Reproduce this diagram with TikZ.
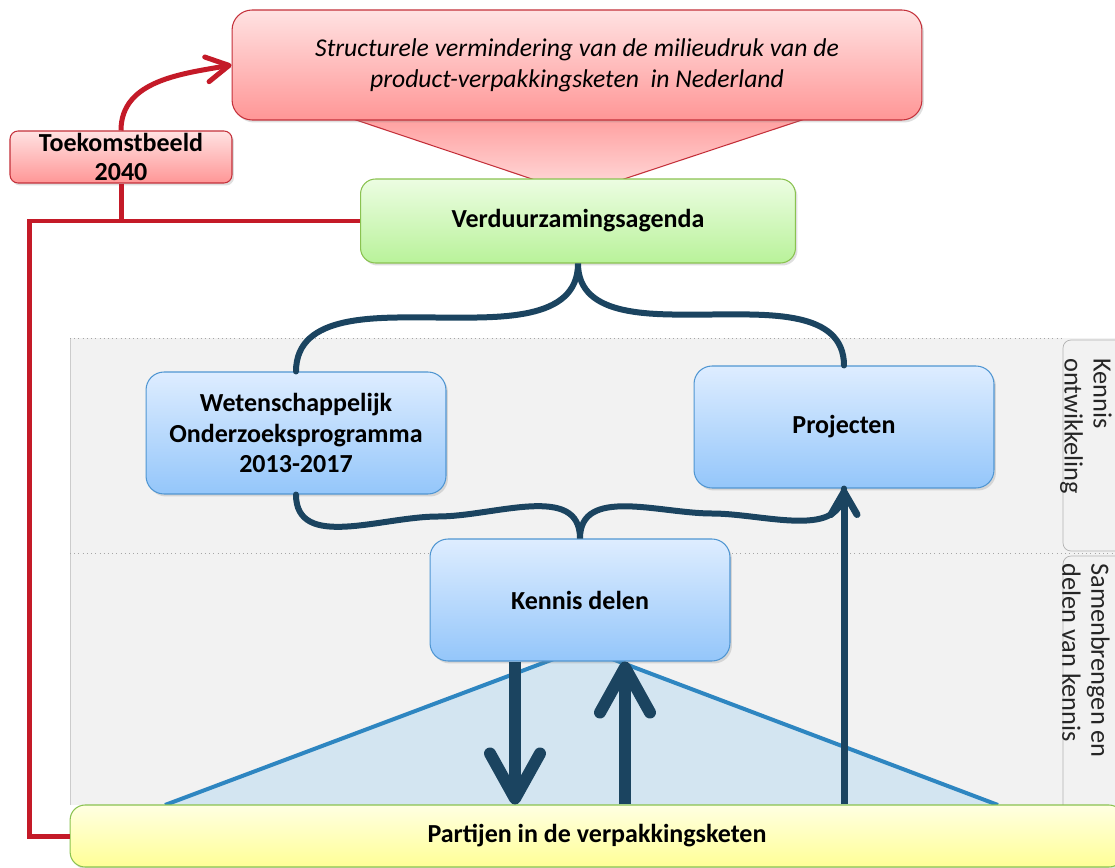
\documentclass[tikz,border=0pt]{standalone}
\usepackage{fontspec}
\setmainfont{Carlito}
\usepackage{xcolor}
\usetikzlibrary{arrows.meta}
\usetikzlibrary{calc}
\usetikzlibrary{shadows}
\definecolor{arrowblue}{RGB}{27,68,96}
\definecolor{feedbackred}{RGB}{196,26,40}
\definecolor{bluetop}{RGB}{222,237,255}
\definecolor{bluebot}{RGB}{148,198,250}
\definecolor{blueedge}{RGB}{80,150,210}
\definecolor{greentop}{RGB}{236,253,226}
\definecolor{greenbot}{RGB}{185,242,154}
\definecolor{greenedge}{RGB}{138,194,80}
\definecolor{redtop}{RGB}{255,226,226}
\definecolor{redbot}{RGB}{255,150,150}
\definecolor{rededge}{RGB}{196,48,58}
\definecolor{yellowtop}{RGB}{255,255,226}
\definecolor{yellowbot}{RGB}{255,255,150}
\definecolor{bandgray}{RGB}{242,242,242}
\definecolor{trifill}{RGB}{211,229,241}
\definecolor{triedge}{RGB}{46,134,193}

\begin{document}
\begin{tikzpicture}[x=0.02cm, y=-0.02cm,
    box/.style={rounded corners=0.36cm, align=center, inner sep=2pt,
        font=\fontsize{14.8}{17.6}\selectfont\bfseries,
        drop shadow={opacity=0.25, shadow xshift=0.04cm, shadow yshift=-0.05cm}},
    bluebox/.style={box, draw=blueedge, line width=0.6pt, top color=bluetop, bottom color=bluebot,
        minimum width=6cm, minimum height=2.44cm},
    redbox/.style={box, draw=rededge, line width=0.6pt, top color=redtop, bottom color=redbot},
    bracelink/.style={draw=arrowblue, line width=0.12cm, line cap=round},
    feedback/.style={draw=feedbackred, line width=0.1cm},
    bigarrow/.style={draw=arrowblue, line width=0.24cm,
        -{Straight Barb[round, length=0.9cm, width=1.0cm]}},
    thinarrow/.style={draw=arrowblue, line width=0.14cm,
        -{Straight Barb[round, length=0.45cm, width=0.52cm]}},
    tablabel/.style={rotate=-90, anchor=west, align=left, inner sep=0pt,
        font=\fontsize{15}{16.5}\selectfont, text=black!85}]
    \useasboundingbox (0,0) rectangle (1115,868);
    \clip (0,0) rectangle (1115,868);
    \fill [white] (0,0) rectangle (1115,868);

    \fill [bandgray] (70,338) rectangle (1125,805);
    \draw [gray!40] (70,338) -- (70,805);
    \draw [gray!70, dotted] (70,338) -- (1063,338);
    \draw [gray!70, dotted] (70,553) -- (1125,553);
    \draw [gray!60, rounded corners=0.16cm] (1125,340) -- (1063,340) -- (1063,551) -- (1125,551);
    \draw [gray!60, rounded corners=0.16cm] (1125,556) -- (1063,556) -- (1063,815) -- (1125,815);
    \node [tablabel] (tabkennis) at (1086,358) {Kennis\\ontwikkeling};
    \node [tablabel] (tabdelen) at (1086,563) {Samenbrengen en\\delen van kennis};

    \filldraw [fill=trifill, draw=triedge, line width=0.08cm] (165,805) -- (583,648) -- (998,805);
    \path [draw=rededge, line width=0.6pt, top color=redbot!90, bottom color=redtop!80!redbot]
        (353,119) -- (535,180) -- (621,180) -- (805,119);

    \node [redbox, rounded corners=0.4cm, minimum width=13.8cm, minimum height=2.2cm,
        font=\fontsize{14.6}{17.6}\selectfont\itshape] (vision) at (577,65)
        {Structurele vermindering van de milieudruk van de\\product-verpakkingsketen \ in Nederland};
    \node [redbox, rounded corners=0.16cm, minimum width=4.44cm, minimum height=1.04cm,
        inner sep=0pt, font=\fontsize{14.8}{16.5}\selectfont\bfseries] (future) at (121,157)
        {Toekomstbeeld\\2040};
    \node [box, draw=greenedge, line width=0.6pt, top color=greentop, bottom color=greenbot,
        minimum width=8.7cm, minimum height=1.68cm, rounded corners=0.3cm] (agenda) at (578,221)
        {Verduurzamingsagenda};
    \node [bluebox] (research) at (296,433) {Wetenschappelijk\\Onderzoeksprogramma\\2013-2017};
    \node [bluebox] (projects) at (844,427) {Projecten};
    \node [bluebox] (sharing) at (580,600) {Kennis delen};
    \node [box, draw=greenedge, line width=0.6pt, top color=yellowtop, bottom color=yellowbot,
        minimum width=21.08cm, minimum height=1.24cm, rounded corners=0.3cm] (chain) at (597,836)
        {Partijen in de verpakkingsketen};

    \draw [feedback] (agenda.west) -| ([xshift=-0.8cm]chain.west) -- (chain.west);
    \draw [feedback] (future.south) -- (future.south |- agenda.west);
    \draw [feedback, -{Straight Barb[round, length=0.45cm, width=0.5cm]}] (future.north) to[out=90, in=190] (vision.west);

    \draw [bracelink] (research.north) to[out=90, in=180] ($(research.north)!.5!(agenda.south)$)
        to[out=0, in=-90] (agenda.south) to[out=-90, in=180] ($(projects.north)!.5!(agenda.south)$)
        to[out=0, in=90] (projects.north);
    \draw [bracelink] (research.south) to[out=-90, in=180] ($(research.south)!.5!(sharing.north)$)
        to[out=0, in=90] (sharing.north) to[out=90, in=180] ($(projects.south)!.5!(sharing.north)$)
        to[out=0, in=-90] (projects.south);

    \coordinate (down) at ([xshift=-1.3cm]sharing.south);
    \coordinate (up) at ([xshift=0.9cm]sharing.south);
    \draw [bigarrow] (down) -- (down |- chain.north);
    \draw [bigarrow] (up |- chain.north) -- (up);
    \draw [thinarrow] (projects.south |- chain.north) -- (projects.south);
\end{tikzpicture}
\end{document}
